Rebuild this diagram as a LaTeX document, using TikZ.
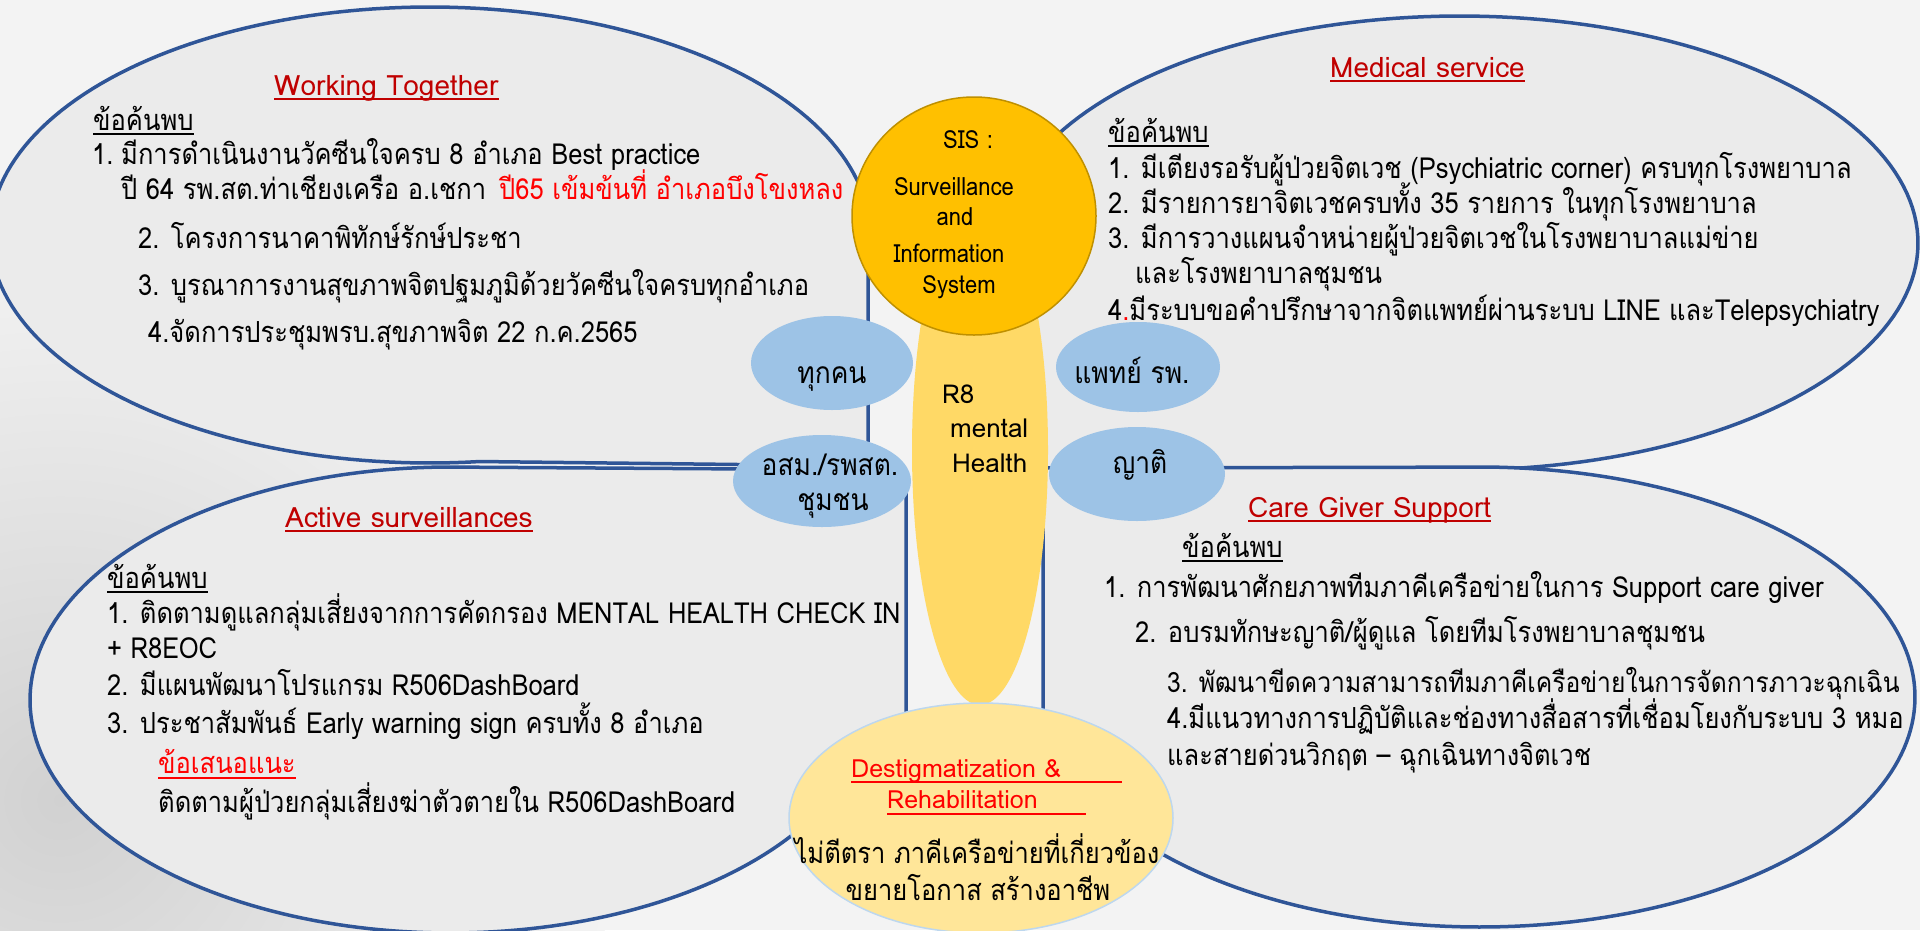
\documentclass[tikz,border=0pt]{standalone}
\usepackage{fontspec}
\usetikzlibrary{shapes.geometric}
\newfontfamily\thai[Script=Thai, FakeStretch=0.88]{Loma}
\newfontfamily\thaiW[Script=Thai]{Loma}
\definecolor{bline}{HTML}{2F5597}
\definecolor{shapegray}{HTML}{EBEBEB}
\definecolor{bgcol}{HTML}{F3F3F3}
\definecolor{redA}{HTML}{C00000}
\definecolor{redB}{HTML}{FF0000}
\definecolor{gold}{HTML}{FFC000}
\definecolor{goldline}{HTML}{BF9000}
\definecolor{petal}{HTML}{FFD966}
\definecolor{lblue}{HTML}{9DC3E6}
\definecolor{lyellow}{HTML}{FFE699}
\definecolor{pblue}{HTML}{BDD7EE}
\newcommand\txtfont{\thai\fontsize{29}{34}\selectfont}
\newcommand\txtfontS{\thai\fontsize{28}{34}\selectfont}
\newcommand\ttlfont{\thaiW\fontsize{28}{34}\selectfont}
\newcommand\sisfont{\thai\fontsize{25}{30}\selectfont}
\newcommand\petfont{\thaiW\fontsize{26}{30}\selectfont}
\newcommand\dstfont{\thaiW\fontsize{25}{30}\selectfont}
\newcommand\bubfont{\thai\fontsize{30}{34}\selectfont}
\tikzset{
  bigshape/.style={fill=shapegray, draw=bline, line width=3.5pt, line join=round},
  txt/.style={anchor=base west, inner sep=0pt, font=\txtfont, text=black},
  ttl/.style={txt, font=\ttlfont, text=redA},
  ttlb/.style={txt, text=redB},
  bub/.style={fill=lblue, draw=none},
  bubtxt/.style={anchor=base, inner sep=0pt, font=\bubfont},
  sistxt/.style={anchor=base, inner sep=0pt, font=\sisfont},
  pettxt/.style={anchor=base west, inner sep=0pt, font=\petfont},
  ulA/.style={draw=redA, line width=1.6pt},
  ulB/.style={draw=redB, line width=1.6pt},
  ulK/.style={draw=black, line width=1.6pt}
}
\begin{document}
\begin{tikzpicture}[x=1pt, y=-1pt]
\useasboundingbox (0,0) rectangle (1920,930);
\clip (0,0) rectangle (1920,930);
\fill[bgcol] (0,0) rectangle (1920,930);
\shade[inner color=black!18, outer color=bgcol] (60,800) ellipse[x radius=560, y radius=560];

% big shapes
\path[bigshape] plot[domain=83.5:354.6, samples=160, variable=\t] ({430+440*cos(\t)},{235+228*sin(\t)}) -- (868,466) -- cycle;
\path[bigshape] plot[domain=159.9:455, samples=160, variable=\t] ({1460+458*cos(\t)},{243+227*sin(\t)}) -- (1030,470) -- cycle;
\path[bigshape] plot[domain=22.7:272, samples=160, variable=\t] ({450+420*cos(\t)},{700+233*sin(\t)}) -- (906,470) -- (906,790) -- cycle;
\path[bigshape] plot[domain=-92:153.4, samples=160, variable=\t] ({1480+435*cos(\t)},{697+230*sin(\t)}) -- (1043,800) -- (1043,468) -- cycle;

% petal and circle
\fill[petal] (980,450) ellipse[x radius=68, y radius=255];
\node[draw=goldline, fill=gold, line width=1.5pt, ellipse, minimum width=244pt, minimum height=238pt, inner sep=0pt] (sis) at (974,216) {};
\node[sistxt] (sis1) at (968,148) {SIS :};
\node[sistxt] (sis2) at (954,195) {Surveillance};
\node[sistxt] (sis3) at (955,225) {and};
\node[sistxt] (sis4) at (949,262) {Information};
\node[sistxt] (sis5) at (959,293) {System};
\node[pettxt] (r8a) at (942,403) {R8};
\node[pettxt] (r8b) at (950,437) {mental};
\node[pettxt] (r8c) at (952,472) {Health};

% blue ellipses
\fill[bub] (832,363) ellipse[x radius=81, y radius=47];
\fill[bub] (822,481) ellipse[x radius=89, y radius=46];
\fill[bub] (1138,367) ellipse[x radius=82, y radius=45];
\fill[bub] (1137,474) ellipse[x radius=88, y radius=47];
\node[bubtxt] (b1) at (832,383) {ทุกคน};
\node[bubtxt] (b2) at (1132,383) {แพทย์ รพ.};
\node[bubtxt] (b3) at (830,475) {อสม./รพสต.};
\node[bubtxt] (b3b) at (833,510) {ชุมชน};
\node[bubtxt] (b4) at (1140,473) {ญาติ};

% destigmatization ellipse
\draw[fill=lyellow, draw=pblue, line width=1.5pt] (981,818) ellipse[x radius=192, y radius=115];
\node[ttlb, font=\dstfont] (d1) at (851,777) {Destigmatization \&};
\node[ttlb, font=\dstfont] (d2) at (887,808) {Rehabilitation};
\draw[ulB] (851,782) -- (1122,782);
\draw[ulB] (887,814) -- (1086,814);
\node[anchor=base, inner sep=0pt, font=\txtfont] (d3) at (977,863) {ไม่ตีตรา ภาคีเครือข่ายที่เกี่ยวข้อง};
\node[anchor=base, inner sep=0pt, font=\txtfont] (d4) at (978,900) {ขยายโอกาส สร้างอาชีพ};

% Working Together
\node[ttl] (wt) at (274,95) {Working Together};
\draw[ulA] ([yshift=-4pt]wt.base west) -- ([yshift=-4pt]wt.base east);
\node[txt] (tlk) at (93,130) {ข้อค้นพบ};
\draw[ulK] ([yshift=-4pt]tlk.base west) -- ([yshift=-4pt]tlk.base east);
\node[txt] (tl1n) at (92,164) {1.};
\node[txt] (tl1) at (121,164) {มีการดำเนินงานวัคซีนใจครบ 8 อำเภอ Best practice};
\node[txt] (tl1b) at (121,199) {ปี 64 รพ.สต.ท่าเชียงเครือ อ.เชกา};
\node[ttlb] (tl1c) at (499,199) {ปี65 เข้มข้นที่ อำเภอบึงโขงหลง};
\node[txt] (tl2) at (138,248) {2. โครงการนาคาพิทักษ์รักษ์ประชา};
\node[txt] (tl3) at (138,295) {3. บูรณาการงานสุขภาพจิตปฐมภูมิด้วยวัคซีนใจครบทุกอำเภอ};
\node[txt] (tl4) at (148,342) {4.จัดการประชุมพรบ.สุขภาพจิต 22 ก.ค.2565};

% Medical service
\node[ttl] (ms) at (1330,77) {Medical service};
\draw[ulA] ([yshift=-4pt]ms.base west) -- ([yshift=-4pt]ms.base east);
\node[txt] (trk) at (1108,142) {ข้อค้นพบ};
\draw[ulK] ([yshift=-4pt]trk.base west) -- ([yshift=-4pt]trk.base east);
\node[txt] (tr1) at (1108,178) {1. มีเตียงรอรับผู้ป่วยจิตเวช (Psychiatric corner) ครบทุกโรงพยาบาล};
\node[txt] (tr2) at (1108,213) {2. มีรายการยาจิตเวชครบทั้ง 35 รายการ ในทุกโรงพยาบาล};
\node[txt] (tr3) at (1108,248) {3. มีการวางแผนจำหน่ายผู้ป่วยจิตเวชในโรงพยาบาลแม่ข่าย};
\node[txt] (tr3b) at (1135,283) {และโรงพยาบาลชุมชน};
\node[txt] (tr4) at (1108,320) {4{\color{redB}.}มีระบบขอคำปรึกษาจากจิตแพทย์ผ่านระบบ LINE และTelepsychiatry};

% Active surveillances
\node[ttl] (as) at (285,527) {Active surveillances};
\draw[ulA] ([yshift=-4pt]as.base west) -- ([yshift=-4pt]as.base east);
\node[txt] (blk) at (107,588) {ข้อค้นพบ};
\draw[ulK] ([yshift=-4pt]blk.base west) -- ([yshift=-4pt]blk.base east);
\node[txt] (bl1) at (107,623) {1. ติดตามดูแลกลุ่มเสี่ยงจากการคัดกรอง MENTAL HEALTH CHECK IN};
\node[txt] (bl1b) at (107,658) {+ R8EOC};
\node[txt] (bl2) at (107,695) {2. มีแผนพัฒนาโปรแกรม R506DashBoard};
\node[txt] (bl3) at (107,733) {3. ประชาสัมพันธ์ Early warning sign ครบทั้ง 8 อำเภอ};
\node[ttlb] (bls) at (158,773) {ข้อเสนอแนะ};
\draw[ulB] ([yshift=-5pt]bls.base west) -- ([yshift=-5pt]bls.base east);
\node[txt] (bl4) at (158,812) {ติดตามผู้ป่วยกลุ่มเสี่ยงฆ่าตัวตายใน R506DashBoard};

% Care Giver Support
\node[ttl] (cg) at (1248,517) {Care Giver Support};
\draw[ulA] ([yshift=-4pt]cg.base west) -- ([yshift=-4pt]cg.base east);
\node[txt] (brk) at (1182,557) {ข้อค้นพบ};
\draw[ulK] ([yshift=-4pt]brk.base west) -- ([yshift=-4pt]brk.base east);
\node[txt] (br1) at (1104,597) {1. การพัฒนาศักยภาพทีมภาคีเครือข่ายในการ Support care giver};
\node[txt] (br2) at (1135,642) {2. อบรมทักษะญาติ/ผู้ดูแล โดยทีมโรงพยาบาลชุมชน};
\node[txt, font=\txtfontS] (br3) at (1167,692) {3. พัฒนาขีดความสามารถทีมภาคีเครือข่ายในการจัดการภาวะฉุกเฉิน};
\node[txt] (br4) at (1167,728) {4.มีแนวทางการปฏิบัติและช่องทางสื่อสารที่เชื่อมโยงกับระบบ 3 หมอ};
\node[txt] (br5) at (1167,765) {และสายด่วนวิกฤต – ฉุกเฉินทางจิตเวช};
\end{tikzpicture}
\end{document}
